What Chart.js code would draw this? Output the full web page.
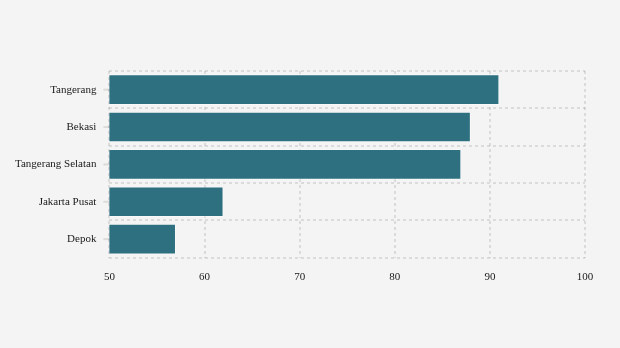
<!DOCTYPE html>
<html><head><meta charset="utf-8">
<script src="https://cdn.jsdelivr.net/npm/chart.js@4"></script>
<style>html,body{margin:0;padding:0;background:#f4f4f4;}#wrap{width:620px;height:348px;}</style>
</head><body><div id="wrap"><canvas id="c"></canvas></div>
<script>
const categories = ["Tangerang", "Bekasi", "Tangerang Selatan", "Jakarta Pusat", "Depok"];
const values = [91, 88, 87, 62, 57];
const xTicks = [50, 60, 70, 80, 90, 100];

const tickMarks = {
  id: 'tickMarks',
  afterDraw(chart) {
    const y = chart.scales.y, ctx = chart.ctx;
    ctx.save();
    ctx.strokeStyle = 'rgba(0,0,0,0.1)';
    ctx.lineWidth = 2;
    y.ticks.forEach((t, i) => {
      const py = y.getPixelForTick(i);
      ctx.beginPath(); ctx.moveTo(y.right - 6, py); ctx.lineTo(y.right, py); ctx.stroke();
    });
    ctx.restore();
  }
};

new Chart(document.getElementById('c'), {
  type: 'bar',
  data: { labels: categories, datasets: [{ data: values, backgroundColor: '#2e6f80', borderColor: 'rgba(255,255,255,0.4)', borderWidth: 1, barPercentage: 0.82, categoryPercentage: 1 }] },
  options: {
    indexAxis: 'y', responsive: true, maintainAspectRatio: false, animation: false,
    layout: { padding: { top: 71, right: 35, bottom: 51, left: 2 } },
    plugins: { legend: { display: false }, tooltip: { enabled: false } },
    scales: {
      x: {
        min: 50, max: 100, z: 1,
        afterBuildTicks(s) { s.ticks = xTicks.map(v => ({ value: v })); },
        grid: { color: 'rgba(0,0,0,0.1)', lineWidth: 2, drawTicks: false },
        border: { display: false, dash: [3, 3] },
        ticks: { color: '#1a1a1a', padding: 13, font: { family: 'Liberation Serif', size: 11 } }
      },
      y: {
        z: 1,
        grid: { color: 'rgba(0,0,0,0.1)', lineWidth: 2, offset: true, drawTicks: false },
        border: { display: false, dash: [3, 3] },
        ticks: { color: '#1a1a1a', padding: 13, font: { family: 'Liberation Serif', size: 11 } }
      }
    }
  },
  plugins: [tickMarks]
});
</script></body></html>
